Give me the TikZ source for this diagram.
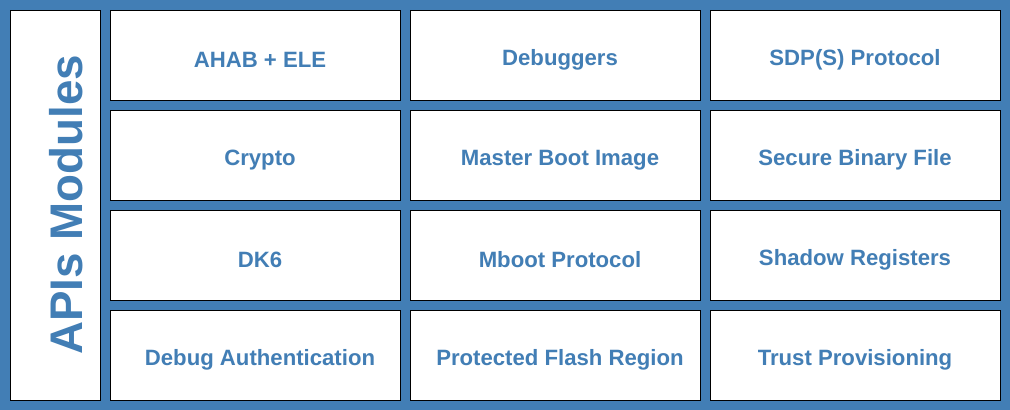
\documentclass[tikz,border=0pt]{standalone}
\usepackage{fontspec}
\setmainfont{Liberation Sans}
\definecolor{apiblue}{HTML}{427EB5}
\tikzset{
  cell/.style={draw=black, line width=0.3pt, fill=white, minimum width=2.9cm, minimum height=0.9cm,
    text=apiblue, font=\bfseries\fontsize{6.3}{7}\selectfont, inner sep=0pt, anchor=north west}
}
\begin{document}
\begin{tikzpicture}[x=0.01cm, y=-0.01cm]
	\fill[apiblue] (0,0) rectangle (1010,410);
	\node[draw=black, line width=0.3pt, fill=white, minimum width=0.9cm, minimum height=3.9cm, anchor=north west] (side) at (10,10) {};
	\node[rotate=90, text=apiblue, font=\bfseries\fontsize{13}{14}\selectfont] (title) at (66,205) {APIs Modules};
	% grid of modules
	\foreach \r/\a/\b/\c in {0/AHAB + ELE/Debuggers/SDP(S) Protocol,
	                       1/Crypto/Master Boot Image/Secure Binary File,
	                       2/DK6/Mboot Protocol/Shadow Registers,
	                       3/Debug Authentication/Protected Flash Region/Trust Provisioning}
	{
		\node[cell] (m\r a) at (110,10+100*\r) {};
		\node[cell] (m\r b) at (410,10+100*\r) {};
		\node[cell] (m\r c) at (710,10+100*\r) {};
		\node[text=apiblue, font=\bfseries\fontsize{6.3}{7}\selectfont] (t\r a) at (260,60+100*\r) {\a};
		\node[text=apiblue, font=\bfseries\fontsize{6.3}{7}\selectfont] (t\r b) at (560,60+100*\r) {\b};
		\node[text=apiblue, font=\bfseries\fontsize{6.3}{7}\selectfont] (t\r c) at (855,60+100*\r) {\c};
	}
\end{tikzpicture}
\end{document}
